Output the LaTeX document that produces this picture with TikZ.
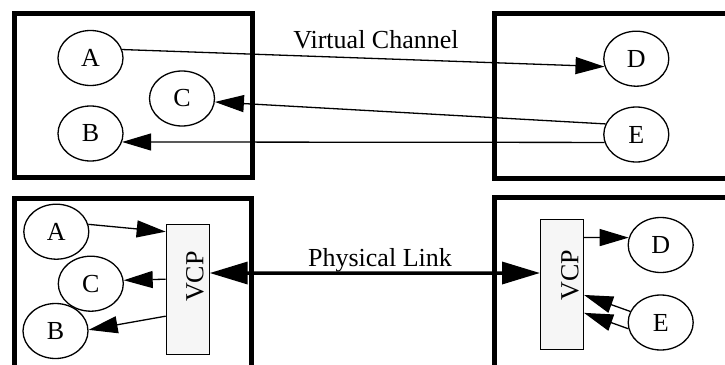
\documentclass[tikz,border=0pt]{standalone}
\usepackage{fontspec}
\setmainfont{Liberation Serif}
\usetikzlibrary{shapes.geometric,arrows.meta}
\begin{document}
\begin{tikzpicture}[x=1pt,y=-1pt,
  frame/.style={line width=5pt},
  proc/.style={ellipse,draw,line width=1.3pt,minimum width=65pt,minimum height=55pt,inner sep=0pt,
    font=\fontsize{26}{30}\selectfont},
  vcpbox/.style={rectangle,draw,line width=1pt,fill=gray!7,minimum width=43pt,minimum height=130pt,inner sep=0pt},
  vcptext/.style={rotate=90,font=\fontsize{26}{30}\selectfont,inner sep=0pt},
  lbl/.style={font=\fontsize{26}{30}\selectfont,inner sep=0pt,anchor=base},
  conn/.style={line width=1.3pt,-{Triangle[length=29pt,width=17pt]}},
  link/.style={line width=3.5pt,{Triangle[length=38pt,width=22pt]}-{Triangle[length=38pt,width=22pt]}}]
\useasboundingbox (0,0) rectangle (725,364);
\clip (0,0) rectangle (725,364);
\fill[white] (0,0) rectangle (725,364);

% enclosing frames of the two hosts, upper and lower views
\draw[frame] (14.5,13.5) rectangle (252,177);
\draw[frame] (494.5,13.5) rectangle (740,178);
\draw[frame] (14.5,198.5) rectangle (251,380);
\draw[frame] (494.5,197.5) rectangle (740,380);

% upper view: virtual channels
\node[proc] (A1) at (90.5,58) {A};
\node[proc] (C1) at (182,98.5) {C};
\node[proc] (B1) at (90.5,133.5) {B};
\node[proc] (D1) at (636.3,58.7) {D};
\node[proc] (E1) at (636.3,134.5) {E};
\node[lbl] (vc) at (376,48.3) {Virtual Channel};

\draw[conn] (A1.15) -- (D1.194);
\draw[conn] (E1.161) -- (C1.-6);
\draw[conn] (E1.194) -- (B1.-15);

% lower view: multiplexing over the physical link
\node[proc] (A2) at (56.3,231.7) {A};
\node[proc] (C2) at (90.8,283.7) {C};
\node[proc] (B2) at (55.5,331) {B};
\node[vcpbox] (V2) at (187.7,289) {};
\node[vcptext] (V2t) at (195,276.5) {VCP};

\node[vcpbox] (V3) at (562,284.7) {};
\node[vcptext] (V3t) at (570,275) {VCP};
\node[proc] (D3) at (660.7,245) {D};
\node[proc] (E3) at (660.7,322.5) {E};
\node[lbl] (pl) at (380,266.7) {Physical Link};

\draw[conn] (A2.13) -- (V2.111);
\draw[conn] (V2.156) -- (C2.6);
\draw[conn] (V2.231) -- (B2.2);
\draw[link] (V2.36) -- (V3.152.6);
\draw[conn] (V3.65) -- (D3.167);
\draw[conn] (E3.160) -- (V3.-25);
\draw[conn] (E3.191) -- (V3.-52.4);
\end{tikzpicture}
\end{document}
